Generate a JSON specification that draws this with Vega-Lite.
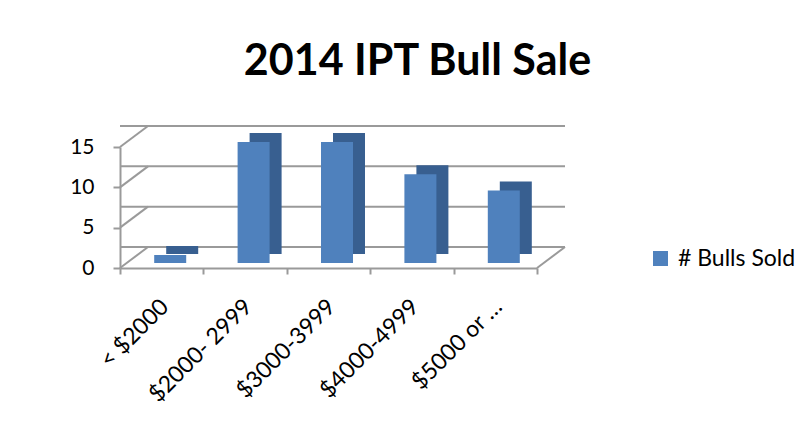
{
  "$schema": "https://vega.github.io/schema/vega-lite/v6.json",
  "width": 417,
  "height": 121,
  "autosize": "none",
  "padding": {"left": 120, "top": 147, "right": 271, "bottom": 156},
  "background": "white",
  "config": {
    "view": {"stroke": null},
    "axisY": {"grid": false, "labelFont": "Lato", "labelFontSize": 21, "labelColor": "black", "domainColor": "#9a9a9a", "tickColor": "#9a9a9a", "domainWidth": 2, "tickWidth": 2, "tickSize": 7, "labelPadding": 19}
  },
  "title": {"text": "2014 IPT Bull Sale", "font": "Lato", "fontSize": 43, "fontWeight": "bold", "color": "black", "anchor": "middle", "frame": "group", "dx": 89, "offset": 7, "baseline": "alphabetic"},
  "datasets": {
    "sales": [
      {"range": "< $2000", "bulls": 1, "series": "# Bulls Sold"},
      {"range": "$2000- 2999", "bulls": 15, "series": "# Bulls Sold"},
      {"range": "$3000-3999", "bulls": 15, "series": "# Bulls Sold"},
      {"range": "$4000-4999", "bulls": 11, "series": "# Bulls Sold"},
      {"range": "$5000 or …", "bulls": 9, "series": "# Bulls Sold"}
    ],
    "grid": [{"level": 0}, {"level": 5}, {"level": 10}, {"level": 15}]
  },
  "resolve": {"scale": {"x": "independent"}},
  "layer": [
    {
      "data": {"name": "grid"},
      "mark": {"type": "rule", "color": "#9a9a9a", "strokeWidth": 2, "xOffset": 28, "yOffset": -21},
      "encoding": {
        "y": {"field": "level", "type": "quantitative", "scale": {"domain": [0, 15]}, "axis": {"title": null, "values": [0, 5, 10, 15]}}
      }
    },
    {
      "data": {"name": "grid"},
      "mark": {"type": "rule", "color": "#9a9a9a", "strokeWidth": 2, "x2Offset": 28, "y2Offset": -21},
      "encoding": {
        "x": {"datum": 0, "type": "quantitative", "scale": {"domain": [0, 1]}, "axis": null},
        "x2": {"datum": 0},
        "y": {"field": "level", "type": "quantitative", "scale": {"domain": [0, 15]}, "axis": {"title": null, "values": [0, 5, 10, 15]}},
        "y2": {"field": "level"}
      }
    },
    {
      "data": {"values": [{"level": 0}]},
      "mark": {"type": "rule", "color": "#9a9a9a", "strokeWidth": 2, "x2Offset": 28, "y2Offset": -21},
      "encoding": {
        "x": {"datum": 1, "type": "quantitative", "scale": {"domain": [0, 1]}, "axis": null},
        "x2": {"datum": 1},
        "y": {"field": "level", "type": "quantitative", "scale": {"domain": [0, 15]}, "axis": {"title": null, "values": [0, 5, 10, 15]}},
        "y2": {"field": "level"}
      }
    },
    {
      "data": {"name": "sales"},
      "mark": {"type": "bar", "color": "#385F90", "width": 32, "xOffset": 20.5, "yOffset": -14},
      "encoding": {
        "x": {"field": "range", "type": "nominal", "sort": null, "scale": {"paddingInner": 0, "paddingOuter": 0}, "axis": null},
        "y": {"field": "bulls", "type": "quantitative", "scale": {"domain": [0, 15]}, "axis": {"title": null, "values": [0, 5, 10, 15]}}
      }
    },
    {
      "data": {"name": "sales"},
      "mark": {"type": "bar", "width": 32, "xOffset": 8.5, "yOffset": -5},
      "encoding": {
        "x": {"field": "range", "type": "nominal", "sort": null, "scale": {"paddingInner": 0, "paddingOuter": 0},
          "axis": {"title": null, "labelAngle": -45, "tickBand": "extent", "labelFont": "Lato", "labelFontSize": 23, "labelColor": "black", "domainColor": "#9a9a9a", "tickColor": "#9a9a9a", "domainWidth": 2, "tickWidth": 2, "tickSize": 6, "labelPadding": 21, "labelOffset": -5, "labelLimit": 0}},
        "y": {"field": "bulls", "type": "quantitative", "scale": {"domain": [0, 15]}, "axis": {"title": null, "values": [0, 5, 10, 15]}},
        "color": {"field": "series", "type": "nominal", "scale": {"range": ["#4F81BD"]},
          "legend": {"title": null, "orient": "none", "legendX": 529, "legendY": 100, "symbolType": "square", "symbolSize": 225, "symbolStrokeWidth": 0, "labelOffset": 6, "labelFont": "Lato", "labelFontSize": 23, "labelColor": "black"}}
      }
    }
  ]
}
